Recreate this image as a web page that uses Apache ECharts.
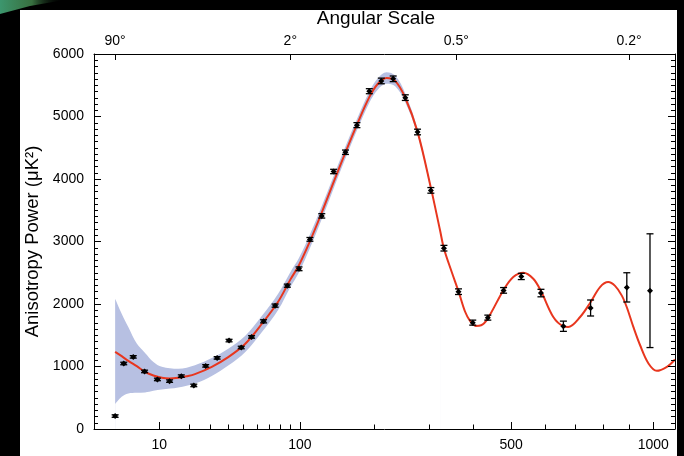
<!DOCTYPE html>
<html>
<head>
<meta charset="utf-8">
<script src="https://cdn.jsdelivr.net/npm/echarts@6/dist/echarts.min.js"></script>
<style>
html,body{margin:0;padding:0;background:#000;}
#chart{width:684px;height:456px;}
</style>
</head>
<body>
<div id="chart"></div>
<script>
// ---- data ----
// bottom axis (multipole l)
const majorTickL = [10, 100, 500, 1000];
const minorTickL = [20, 30, 40, 50, 60, 70, 80, 90, 200, 300, 400, 600, 700, 800, 900];
const bottomLabelL = [10, 100, 500, 1000];
// top axis (angular scale)
const topTickL = [2, 90, 360, 900];
const topTickLabels = ['90°', '2°', '0.5°', '0.2°'];

// model curve
const modelL = [2, 2.74, 3.63, 5, 6.6, 8.5, 10.7, 13, 15.9, 19, 22.5, 30.6, 40, 51.2, 64, 78.4, 90, 98.9, 111.2, 124.9, 140, 155.8, 172.6, 191.5, 205, 220, 235, 253.4, 277.2, 304.3, 323.5, 332.3, 350, 365.2, 380.3, 392.3, 406.2, 420, 436.6, 479.4, 506, 535, 564.5, 588, 627, 659.6, 676, 716.8, 754.3, 788.4, 818.9, 845, 870.8, 890.6, 917.2, 944.8, 979.6, 1015, 1059, 1095];
const modelPower = [1234, 1165, 1090, 1005, 915, 856, 819, 808, 819, 843, 878, 995, 1150, 1360, 1680, 2040, 2390, 2620, 3010, 3460, 3950, 4420, 4870, 5310, 5520, 5617, 5570, 5300, 4750, 3850, 3180, 2880, 2500, 2197, 1880, 1730, 1650, 1660, 1766, 2229, 2431, 2500, 2404, 2207, 1792, 1644, 1633, 1792, 2032, 2271, 2351, 2290, 2138, 1952, 1633, 1340, 1048, 931, 995, 1112];

// cosmic-variance band
const bandL = [2, 2.74, 3.63, 5, 6.6, 8.5, 10.7, 15.9, 22.5, 30.6, 40, 51.2, 64, 78.4, 90, 98.9, 111.2, 124.9, 140, 155.8, 172.6, 191.5, 205, 220, 235, 253.4, 277.2, 304.3, 323.5];
const bandLow = [399, 516, 569, 580, 585, 612, 633, 665, 729, 850, 1015, 1230, 1550, 1910, 2270, 2505, 2900, 3355, 3850, 4325, 4780, 5220, 5430, 5525, 5485, 5230, 4700, 3820, 3165];
const bandHigh = [2085, 1846, 1633, 1367, 1218, 1074, 995, 963, 1021, 1135, 1285, 1490, 1810, 2170, 2510, 2735, 3120, 3565, 4050, 4515, 4960, 5400, 5610, 5710, 5655, 5370, 4800, 3880, 3195];

// measured points
const dataL = [2, 3, 4.4, 6.5, 9.5, 13, 17, 22, 27.5, 33.5, 40.5, 48.5, 56, 65.5, 75.5, 87, 99, 111, 125, 140, 156, 172.5, 191.5, 211, 231.5, 253.5, 277, 304, 332, 365, 399, 437, 479, 529, 588, 660, 754, 891, 986];
const dataPower = [207, 1048, 1154, 921, 793, 766, 846, 697, 1010, 1138, 1415, 1304, 1473, 1723, 1974, 2293, 2563, 3034, 3410, 4120, 4428, 4862, 5405, 5569, 5603, 5302, 4752, 3818, 2893, 2197, 1702, 1782, 2218, 2441, 2175, 1644, 1936, 2266, 2213];
const dataErr = [20, 20, 20, 20, 20, 20, 20, 20, 20, 20, 20, 20, 20, 25, 25, 25, 30, 30, 35, 35, 35, 40, 40, 45, 45, 45, 45, 45, 45, 45, 40, 40, 45, 50, 60, 82, 128, 234, 910];

// ---- axis transform: position ~ l^0.4 ----
const f = l => Math.pow(l, 0.4);
const xMin = 0.749, xMax = 16.435;
const topVals = topTickL.map(f);

const chart = echarts.init(document.getElementById('chart'), null, {renderer: 'canvas'});

function errRender(params, api) {
  const x = api.value(0), v = api.value(1), e = api.value(2);
  const hi = api.coord([x, v + e]);
  const lo = api.coord([x, v - e]);
  const c = api.coord([x, v]);
  const cw = 3.5, d = 3;
  const st = {stroke: '#000', lineWidth: 1.3};
  return {
    type: 'group',
    children: [
      {type: 'line', shape: {x1: hi[0], y1: hi[1], x2: lo[0], y2: lo[1]}, style: st},
      {type: 'line', shape: {x1: hi[0] - cw, y1: hi[1], x2: hi[0] + cw, y2: hi[1]}, style: st},
      {type: 'line', shape: {x1: lo[0] - cw, y1: lo[1], x2: lo[0] + cw, y2: lo[1]}, style: st},
      {type: 'polygon', shape: {points: [[c[0] - d, c[1]], [c[0], c[1] - d], [c[0] + d, c[1]], [c[0], c[1] + d]]}, style: {fill: '#000'}}
    ]
  };
}

const tickColor = '#000';
const option = {
  backgroundColor: '#000',
  animation: false,
  textStyle: {fontFamily: 'Liberation Sans'},
  graphic: {
    elements: [
      {type: 'polygon', z: -20, silent: true,
       shape: {points: [[0, 0], [64, 0], [30, 6], [0, 14]]},
       style: {fill: new echarts.graphic.LinearGradient(0, 0, 1, 0, [
         {offset: 0, color: 'rgba(60,150,110,1)'},
         {offset: 0.5, color: 'rgba(70,140,80,0.8)'},
         {offset: 1, color: 'rgba(0,0,0,0)'}])}},
      {type: 'rect', z: -10, silent: true,
       shape: {x: 20, y: 10, width: 657, height: 446},
       style: {fill: '#fff'}},
      {type: 'text', z: 10, x: 376, y: 19,
       style: {text: 'Angular Scale', textAlign: 'center', textVerticalAlign: 'middle',
                font: '19px "Liberation Sans"', fill: '#000'}}
    ]
  },
  grid: {left: 94, right: 9, top: 54, bottom: 27, containLabel: false},
  xAxis: [
    {type: 'value', position: 'bottom', min: xMin, max: xMax, z: 10,
     axisLine: {show: true, onZero: false, lineStyle: {color: tickColor, width: 1}},
     axisTick: {show: true, inside: true, length: 7, customValues: majorTickL.map(f), lineStyle: {color: tickColor}},
     axisLabel: {customValues: bottomLabelL.map(f), formatter: v => String(Math.round(Math.pow(v, 2.5))),
                 fontSize: 14, color: '#000', margin: 9},
     splitLine: {show: false}},
    {type: 'value', position: 'bottom', min: xMin, max: xMax, z: 10,
     axisLine: {show: false, onZero: false},
     axisTick: {show: true, inside: true, length: 4.5, customValues: minorTickL.map(f), lineStyle: {color: tickColor}},
     axisLabel: {show: false},
     splitLine: {show: false}},
    {type: 'value', position: 'top', min: xMin, max: xMax, z: 10,
     axisLine: {show: true, onZero: false, lineStyle: {color: tickColor, width: 1}},
     axisTick: {show: true, inside: true, length: 6, customValues: topVals, lineStyle: {color: tickColor}},
     axisLabel: {customValues: topVals,
                 formatter: v => { const i = topVals.findIndex(t => Math.abs(t - v) < 1e-6); return i >= 0 ? topTickLabels[i] : ''; },
                 fontSize: 14, color: '#000', margin: 6},
     splitLine: {show: false}}
  ],
  yAxis: [
    {type: 'value', position: 'left', min: 0, max: 6000, interval: 1000, z: 10,
     name: 'Anisotropy Power (μK²)', nameLocation: 'middle', nameGap: 48,
     nameTextStyle: {fontSize: 18.5, color: '#000'},
     axisLine: {show: true, onZero: false, lineStyle: {color: tickColor, width: 1}},
     axisTick: {show: true, inside: true, length: 7, lineStyle: {color: tickColor, width: 1}},
     minorTick: {show: true, splitNumber: 10, length: 4, lineStyle: {color: tickColor, width: 1}},
     axisLabel: {fontSize: 14, color: '#000', margin: 10, formatter: v => String(v)},
     splitLine: {show: false}},
    {type: 'value', position: 'right', min: 0, max: 6000, interval: 1000, z: 10,
     axisLine: {show: true, onZero: false, lineStyle: {color: tickColor, width: 1}},
     axisTick: {show: true, inside: true, length: 7, lineStyle: {color: tickColor, width: 1}},
     minorTick: {show: true, splitNumber: 10, length: 4, lineStyle: {color: tickColor, width: 1}},
     axisLabel: {show: false},
     splitLine: {show: false}}
  ],
  series: [
    // upper edge of band, filled down to zero
    {type: 'line', name: 'bandHigh', xAxisIndex: 0, yAxisIndex: 0, smooth: 0.35, symbol: 'none', silent: true,
     lineStyle: {opacity: 0}, areaStyle: {color: '#b7c0e2', opacity: 1}, z: 1,
     data: bandL.map((l, i) => [f(l), bandHigh[i]])},
    // lower edge of band, masked with the panel colour down to zero
    {type: 'line', name: 'bandLow', xAxisIndex: 0, yAxisIndex: 0, smooth: 0.35, symbol: 'none', silent: true,
     lineStyle: {opacity: 0}, areaStyle: {color: '#ffffff', opacity: 1}, z: 1.5,
     data: bandL.map((l, i) => [f(l), bandLow[i]])},
    {type: 'line', name: 'model', xAxisIndex: 0, yAxisIndex: 0, smooth: 0.35, symbol: 'none', silent: true,
     lineStyle: {color: '#e8361e', width: 2}, z: 3,
     data: modelL.map((l, i) => [f(l), modelPower[i]])},
    {type: 'custom', name: 'data', xAxisIndex: 0, yAxisIndex: 0, renderItem: errRender, z: 4,
     encode: {x: 0, y: 1},
     data: dataL.map((l, i) => [f(l), dataPower[i], dataErr[i]])}
  ]
};
chart.setOption(option);
</script>
</body>
</html>
